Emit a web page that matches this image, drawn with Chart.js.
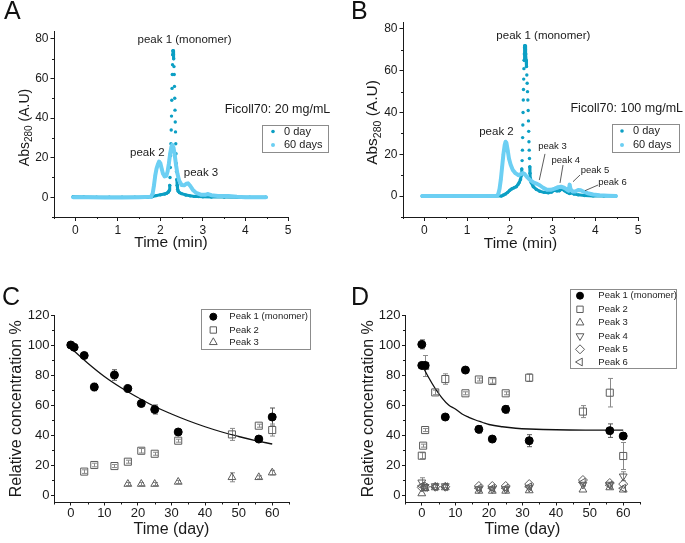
<!DOCTYPE html>
<html>
<head>
<meta charset="utf-8">
<script src="https://cdn.jsdelivr.net/npm/chart.js@4.4.1/dist/chart.umd.min.js"></script>
<style>
  body { margin: 0; background: #fff; }
  #wrap { position: relative; width: 685px; height: 543px; overflow: hidden; font-family: 'Liberation Sans', Arial, sans-serif; }
  #wrap canvas { position: absolute; left: 0; top: 0; }
  .tag { position: absolute; font-size: 25px; line-height: 25px; color: #111; }
</style>
</head>
<body>
<div id="wrap">
  <canvas id="chartA" width="685" height="543"></canvas>
  <canvas id="chartB" width="685" height="543"></canvas>
  <canvas id="chartC" width="685" height="543"></canvas>
  <canvas id="chartD" width="685" height="543"></canvas>
  <div class="tag" style="left:4px;top:-2px">A</div>
  <div class="tag" style="left:351px;top:-2px">B</div>
  <div class="tag" style="left:2px;top:284px">C</div>
  <div class="tag" style="left:351px;top:284px">D</div>
</div>
<script>
// ---- tick labels ----
const minTicks = [0, 1, 2, 3, 4, 5];
const absTicks = [0, 20, 40, 60, 80];
const dayTicks = [0, 10, 20, 30, 40, 50, 60];
const pctTicks = [0, 20, 40, 60, 80, 100, 120];

// ---- chromatograms (time in min, Abs280) ----
const A0_t = [-0.05, 0.2, 0.5, 0.8, 1.1, 1.4, 1.7, 1.8, 1.9, 2.0, 2.1, 2.15, 2.19, 2.21,
  2.22, 2.227, 2.234, 2.241, 2.248, 2.255, 2.262, 2.268, 2.274, 2.28, 2.286, 2.291, 2.296,
  2.302, 2.308, 2.314, 2.32, 2.326, 2.332, 2.338, 2.344, 2.35, 2.356, 2.362, 2.368, 2.374, 2.38,
  2.387, 2.395, 2.405, 2.42, 2.45, 2.5, 2.6, 2.7, 2.8, 2.9, 3.0, 3.2, 3.5, 3.8, 4.1, 4.48];
const A0_v = [0.2, 0.1, 0, 0, 0, 0, 0, 0.2, 0.8, 1.2, 1.6, 2, 2.6, 3.5,
  6, 10, 15, 21, 27, 34, 41, 49, 55, 62, 67, 72, 74,
  74, 72, 70, 66, 62, 56, 50, 44, 38, 33, 27, 22, 17, 13,
  9, 6, 4, 3, 2.3, 1.8, 1.1, 0.7, 0.4, 0.3, 0.2, 0.1, 0.1, 0, 0, 0];
const A60_t = [-0.05, 0.3, 0.7, 1.1, 1.5, 1.78, 1.82, 1.85, 1.88, 1.91, 1.94, 1.97, 2.0, 2.03, 2.06,
  2.1, 2.14, 2.17, 2.2, 2.23, 2.26, 2.28, 2.31, 2.34, 2.37, 2.4, 2.44, 2.5, 2.56, 2.61, 2.65, 2.7,
  2.76, 2.84, 2.95, 3.05, 3.12, 3.2, 3.35, 3.6, 3.8, 4.0, 4.48];
const A60_v = [0, 0, -0.1, -0.1, 0, 0.2, 2, 6, 11, 14.5, 16.5, 18, 17.2, 14.5, 12,
  10.5, 10.8, 13, 17, 22, 25.5, 26.5, 25, 21, 16, 12, 8.5, 6.2, 6, 6.8, 7, 5.8,
  3.8, 2.2, 1.3, 1.2, 1.6, 1, 0.6, 0.6, 0.2, 0, 0];

const B0_t = [-0.05, 0.3, 0.7, 1.1, 1.5, 1.8, 1.85, 1.9, 1.95, 2.0, 2.05, 2.1, 2.15, 2.19, 2.22, 2.25, 2.27,
  2.28, 2.288, 2.295, 2.3, 2.305, 2.31, 2.315, 2.32, 2.325, 2.33, 2.335, 2.34, 2.345, 2.35,
  2.358, 2.366, 2.374, 2.382, 2.39, 2.398, 2.406, 2.414, 2.422, 2.43, 2.436, 2.442, 2.448, 2.454,
  2.46, 2.466, 2.472, 2.48, 2.5, 2.55, 2.62, 2.7, 2.8, 2.9, 2.98, 3.04, 3.1, 3.16, 3.22, 3.28,
  3.34, 3.4, 3.45, 3.5, 3.6, 3.75, 3.95, 4.2, 4.48];
const B0_v = [0, 0, 0, 0, 0, 0, 0.5, 1, 1.8, 2.8, 3.5, 4, 4.5, 5.5, 6.5, 8, 10,
  13, 17, 22, 28, 34, 40, 46, 51, 56, 61, 65, 68, 71, 72,
  72, 70, 68, 65, 62, 58, 54, 50, 46, 41, 36, 31, 26, 22,
  18, 14, 11, 8.5, 6.5, 4.5, 3.2, 2.3, 1.8, 1.6, 2, 2.8, 2.5, 2.6, 3.4, 2.6,
  1.8, 1.2, 1.6, 1, 0.6, 0.3, 0.1, 0, 0];
const B60_t = [-0.05, 0.3, 0.7, 1.1, 1.5, 1.7, 1.73, 1.76, 1.79, 1.82, 1.85, 1.88, 1.9, 1.92, 1.95,
  1.98, 2.02, 2.07, 2.13, 2.2, 2.26, 2.3, 2.35, 2.4, 2.47, 2.55, 2.62, 2.7, 2.78, 2.87, 2.96, 3.05,
  3.13, 3.2, 3.27, 3.33, 3.38, 3.4, 3.42, 3.47, 3.53, 3.6, 3.66, 3.73, 3.82, 3.95, 4.1, 4.3, 4.48];
const B60_v = [0, 0, 0, 0, 0, 0.2, 1, 3.5, 8, 14, 20, 24.5, 26, 25.5, 22,
  18, 15, 12.5, 11, 10, 10.5, 11, 10.5, 9.2, 7.8, 6.6, 6, 5.2, 4, 3, 3, 3.6,
  4.3, 4.5, 4, 3.2, 2.6, 5.5, 3.4, 2.2, 2.2, 2.9, 2.8, 2.1, 1.4, 0.8, 0.4, 0.2, 0];

// ---- relative concentration (day, %) ----
const C1_t = [0, 1, 4, 7, 13, 17, 21, 25, 32, 56, 60];
const C1_v = [100, 98.5, 93, 72, 80, 71, 61, 57, 42, 37.3, 52];
const C1_e = [1, 1, 1.5, 2.5, 3.5, 1, 1.5, 3, 1.5, 1.5, 6];
const C2_t = [4, 7, 13, 17, 21, 25, 32, 48, 56, 60];
const C2_v = [15.6, 20, 19.3, 22.2, 29.5, 27.5, 36.2, 40.4, 46.2, 43.3];
const C2_e = [1.2, 1.2, 1, 1, 1.5, 1, 1, 4, 1, 4];
const C3_t = [17, 21, 25, 32, 48, 56, 60];
const C3_v = [7.3, 7.3, 7.3, 8.7, 11.8, 11.8, 14.9];
const C3_e = [1, 1, 1, 1, 3, 1, 1.5];
const Cfit_t = [0, 5, 10, 15, 20, 25, 30, 35, 40, 45, 50, 55, 60];
const Cfit_v = [98, 88, 79, 71.5, 65, 59, 54, 49.5, 45.5, 42, 39, 36.3, 34];

const D1_t = [0, 0, 1, 7, 13, 17, 21, 25, 32, 56, 60];
const D1_v = [100.4, 86.4, 86.4, 52, 83.3, 43.8, 37.3, 57.1, 36.2, 42.9, 39.3];
const D1_e = [3, 2, 2, 1, 1.5, 2.5, 1.5, 2.5, 4, 4.5, 2];
const D2_t = [0, 0.4, 1, 1, 4, 7, 13, 17, 21, 25, 32, 48, 56, 60];
const D2_v = [26.2, 32.9, 43.3, 86, 68.4, 77.3, 67.8, 77, 76, 67.8, 78.2, 55.6, 68.2, 26];
const D2_e = [2, 1, 1, 7, 1.5, 3.5, 1, 1, 1.5, 1, 2.5, 4, 9.5, 9];
const Dx_t = [0, 1, 4, 7, 17, 21, 25, 32, 48, 56, 60];
const D3_v = [1, 4.5, 5, 5, 2.7, 2.7, 2.7, 3, 3.5, 5, 3.5];
const D4_v = [8.5, 5.5, 6, 6, 4, 4, 4, 5, 7, 7, 12.5];
const D4_e = [3, 1, 1, 1, 1, 1, 1, 1, 1, 1, 3];
const D5_v = [5, 5.5, 5.5, 5.5, 6, 6, 6, 7.3, 10, 8, 7.3];
const D6_v = [6, 5, 5.5, 5.5, 4.5, 4.5, 4.5, 5.5, 8.5, 6.5, 4.5];
const Dfit_t = [0, 2, 4, 6, 8, 10, 12, 14, 16, 18, 20, 24, 28, 32, 40, 50, 60];
const Dfit_v = [87, 78.5, 71, 64.8, 60, 57.3, 54, 51.8, 50, 48.5, 47, 45.5, 44.5, 44, 43.5, 43.3, 43.3];

const FONT = "'Liberation Sans', Arial, sans-serif";
const INK = '#1a1a1a';
const TEAL = '#0c9fc4';
const SKY = '#6ccff3';
const GREY = '#5c5c5c';

const pts = (t, v) => t.map((x, i) => ({ x: x, y: v[i] }));

function chrom(label, t, v, color, width, radius, dotted, order) {
  const ds = {
    label: label, data: pts(t, v), showLine: true, order: order,
    borderColor: color, backgroundColor: color, borderWidth: width,
    borderCapStyle: 'round', borderJoinStyle: 'round',
    pointRadius: radius, pointHoverRadius: radius, pointBorderWidth: 0
  };
  // big jumps in the 0 day trace are only dots, no joining line
  if (dotted) ds.segment = { borderColor: c => Math.abs(c.p1.parsed.y - c.p0.parsed.y) > 3 ? 'rgba(0,0,0,0)' : undefined };
  return ds;
}

function marks(label, t, v, e, style, opts) {
  return Object.assign({
    label: label, data: pts(t, v), showLine: false, errors: e,
    pointStyle: style, pointRadius: 4.5, pointHoverRadius: 4.5, pointBorderWidth: 1,
    borderColor: GREY, backgroundColor: 'rgba(255,255,255,0)', errorColor: '#8a8a8a'
  }, opts || {});
}

function fitLine(t, v) {
  return { label: 'fit', data: pts(t, v), showLine: true, borderColor: '#111', borderWidth: 1.3,
    pointRadius: 0, pointHoverRadius: 0, tension: 0.4, order: 5 };
}

function axis(o) {
  return {
    type: 'linear', min: o.min, max: o.max,
    border: { display: true, color: INK, width: 1 },
    grid: { display: true, drawOnChartArea: false, drawTicks: true, tickLength: o.tick, tickColor: INK, color: INK },
    ticks: { color: INK, padding: o.pad, maxRotation: 0, autoSkip: false,
      font: { family: FONT, size: o.size } },
    afterBuildTicks: s => { s.ticks = o.ticks.map(v => ({ value: v })); },
    title: o.title ? { display: true, text: o.title, color: INK, padding: 0,
      font: { family: FONT, size: o.titleSize } } : { display: false },
    afterFit: s => { if (s.isHorizontal()) s.height = o.fit; else s.width = o.fit; }
  };
}

function drawMarker(ctx, ds, x, y, r) {
  const st = ds.pointStyle || 'circle';
  ctx.save();
  ctx.translate(x, y);
  ctx.rotate((ds.pointRotation || 0) * Math.PI / 180);
  ctx.beginPath();
  if (st === 'rect') { const s = r * Math.SQRT1_2; ctx.rect(-s, -s, 2 * s, 2 * s); }
  else if (st === 'rectRot') { ctx.moveTo(-r, 0); ctx.lineTo(0, -r); ctx.lineTo(r, 0); ctx.lineTo(0, r); ctx.closePath(); }
  else if (st === 'triangle') { ctx.moveTo(0, -r); ctx.lineTo(r * 0.866, r * 0.5); ctx.lineTo(-r * 0.866, r * 0.5); ctx.closePath(); }
  else ctx.arc(0, 0, r, 0, Math.PI * 2);
  ctx.fillStyle = ds.backgroundColor;
  ctx.fill();
  if (ds.pointBorderWidth) { ctx.lineWidth = ds.pointBorderWidth; ctx.strokeStyle = ds.borderColor; ctx.stroke(); }
  ctx.restore();
}

// error bars, minor ticks, labels, legend box
function extras(cfg) {
  return {
    id: 'extras',
    beforeDatasetsDraw(chart) {
      const ctx = chart.ctx, ys = chart.scales.y;
      chart.data.datasets.forEach((ds, i) => {
        if (!ds.errors) return;
        const meta = chart.getDatasetMeta(i);
        ctx.save();
        ctx.strokeStyle = ds.errorColor;
        ctx.lineWidth = 1;
        meta.data.forEach((el, k) => {
          const e = ds.errors[k];
          if (!e) return;
          const v = ds.data[k].y;
          const x = Math.round(el.x) + 0.5;
          const y1 = ys.getPixelForValue(v + e), y2 = ys.getPixelForValue(v - e);
          ctx.beginPath();
          ctx.moveTo(x, y1); ctx.lineTo(x, y2);
          ctx.moveTo(x - 2.5, y1); ctx.lineTo(x + 2.5, y1);
          ctx.moveTo(x - 2.5, y2); ctx.lineTo(x + 2.5, y2);
          ctx.stroke();
        });
        ctx.restore();
      });
    },
    afterDraw(chart) {
      const ctx = chart.ctx, xs = chart.scales.x, ys = chart.scales.y;
      ctx.save();
      ctx.strokeStyle = INK;
      ctx.lineWidth = 1;
      [[xs, cfg.minorX], [ys, cfg.minorY]].forEach(([s, step]) => {
        const majors = s.ticks.map(t => t.value);
        ctx.beginPath();
        for (let v = Math.ceil(s.min / step) * step; v <= s.max + 1e-9; v += step) {
          if (majors.some(m => Math.abs(m - v) < 1e-6)) continue;
          const p = Math.round(s.getPixelForValue(v)) + 0.5;
          if (s.isHorizontal()) { ctx.moveTo(p, s.top); ctx.lineTo(p, s.top + 2); }
          else { ctx.moveTo(s.right, p); ctx.lineTo(s.right - 2, p); }
        }
        ctx.stroke();
      });

      ctx.fillStyle = INK;
      ctx.textAlign = 'center';
      ctx.textBaseline = 'middle';
      (cfg.texts || []).forEach(([txt, x, y, size]) => {
        ctx.font = size + 'px ' + FONT;
        ctx.fillText(txt, xs.getPixelForValue(x), ys.getPixelForValue(y));
      });
      ctx.strokeStyle = '#333';
      ctx.lineWidth = 0.8;
      (cfg.lines || []).forEach(([x1, y1, x2, y2]) => {
        ctx.beginPath();
        ctx.moveTo(xs.getPixelForValue(x1), ys.getPixelForValue(y1));
        ctx.lineTo(xs.getPixelForValue(x2), ys.getPixelForValue(y2));
        ctx.stroke();
      });

      if (cfg.yTitle) {
        const yt = cfg.yTitle;
        ctx.save();
        ctx.translate(yt.x, yt.y);
        ctx.rotate(-Math.PI / 2);
        ctx.textAlign = 'left';
        ctx.textBaseline = 'alphabetic';
        let w = 0;
        yt.parts.forEach(([s, size]) => { ctx.font = size + 'px ' + FONT; w += ctx.measureText(s).width; });
        let cx = -w / 2;
        const base = yt.size * 0.36;
        yt.parts.forEach(([s, size, shift]) => {
          ctx.font = size + 'px ' + FONT;
          ctx.fillText(s, cx, base + shift);
          cx += ctx.measureText(s).width;
        });
        ctx.restore();
      }

      if (cfg.legend) {
        const lg = cfg.legend;
        ctx.strokeStyle = '#8c8c8c';
        ctx.lineWidth = 1;
        ctx.strokeRect(lg.box[0] + 0.5, lg.box[1] + 0.5, lg.box[2], lg.box[3]);
        ctx.textAlign = 'left';
        ctx.textBaseline = 'middle';
        ctx.font = lg.size + 'px ' + FONT;
        lg.items.forEach((di, k) => {
          const ds = chart.data.datasets[di];
          const y = lg.rows[k];
          drawMarker(ctx, ds, lg.markX, y, lg.r[k]);
          ctx.fillStyle = '#222';
          ctx.fillText(ds.label, lg.textX, y);
        });
      }
      ctx.restore();
    }
  };
}

function makeChart(id, box, xAxis, yAxis, datasets, cfg) {
  return new Chart(document.getElementById(id), {
    type: 'scatter',
    data: { datasets: datasets },
    options: {
      responsive: false, animation: false, events: [],
      layout: { padding: { left: box.l - yAxis.fit, top: box.t, right: 685 - box.r, bottom: 543 - box.b - xAxis.fit } },
      plugins: { legend: { display: false }, tooltip: { enabled: false } },
      scales: { x: axis(xAxis), y: axis(yAxis) }
    },
    plugins: [extras(cfg)]
  });
}

// A
makeChart('chartA', { l: 54, t: 31, r: 288, b: 217 },
  { min: -0.5, max: 5, ticks: minTicks, size: 12, tick: 4, pad: 2, fit: 35, title: 'Time (min)', titleSize: 15.5 },
  { min: -10, max: 84, ticks: absTicks, size: 12, tick: 3.5, pad: 2, fit: 40 },
  [chrom('0 day', A0_t, A0_v, TEAL, 3, 1.7, true, 1),
   chrom('60 days', A60_t, A60_v, SKY, 4, 1.5, false, 0)],
  { minorX: 0.5, minorY: 10,
    texts: [['peak 1 (monomer)', 2.567, 79.45, 11.5], ['peak 2', 1.693, 22.3, 11.5],
            ['peak 3', 2.955, 12.2, 11.5], ['Ficoll70: 20 mg/mL', 4.753, 44.1, 12.5]],
    yTitle: { x: 24, y: 127.5, size: 14, parts: [['Abs', 14, 0], ['280', 10, 3], [' (A.U)', 14, 0]] },
    legend: { box: [262, 125, 66, 27], rows: [131.5, 145], markX: 273, textX: 284, size: 11, items: [0, 1], r: [1.8, 2] } });

// B
makeChart('chartB', { l: 403, t: 22.7, r: 638, b: 217 },
  { min: -0.5, max: 5, ticks: minTicks, size: 12, tick: 4, pad: 2, fit: 35.6, title: 'Time (min)', titleSize: 15.5 },
  { min: -10, max: 83, ticks: absTicks, size: 12, tick: 3.5, pad: 2, fit: 40 },
  [chrom('0 day', B0_t, B0_v, TEAL, 3, 1.7, true, 1),
   chrom('60 days', B60_t, B60_v, SKY, 4, 1.5, false, 0)],
  { minorX: 0.5, minorY: 10,
    texts: [['peak 1 (monomer)', 2.784, 76.6, 11.5], ['peak 2', 1.688, 30.8, 11.5],
            ['Ficoll70: 100 mg/mL', 4.736, 42, 12.5], ['peak 3', 2.999, 23.6, 9.5],
            ['peak 4', 3.31, 16.9, 9.5], ['peak 5', 3.994, 12.5, 9.5], ['peak 6', 4.403, 6.4, 9.5]],
    lines: [[2.823, 20.2, 2.69, 7.7], [3.245, 14.9, 3.175, 6.3], [3.643, 10.1, 3.479, 6.9], [4.064, 5.3, 3.76, 2.6]],
    yTitle: { x: 371.7, y: 122.5, size: 15.5, parts: [['Abs', 15.5, 0], ['280', 10.5, 3.5], [' (A.U)', 15.5, 0]] },
    legend: { box: [612, 124, 67, 28], rows: [131, 145], markX: 622, textX: 633, size: 11, items: [0, 1], r: [1.8, 2] } });

// C
makeChart('chartC', { l: 54, t: 315, r: 289, b: 502.5 },
  { min: -5, max: 65, ticks: dayTicks, size: 13, tick: 3, pad: 0, fit: 37.1, title: 'Time (day)', titleSize: 16 },
  { min: -5, max: 120, ticks: pctTicks, size: 13, tick: 3, pad: 1.5, fit: 46.9, title: 'Relative concentration %', titleSize: 16 },
  [marks('Peak 1 (monomer)', C1_t, C1_v, C1_e, 'circle', { pointRadius: 4, backgroundColor: '#000', borderColor: '#000', errorColor: '#555' }),
   marks('Peak 2', C2_t, C2_v, C2_e, 'rect', { pointRadius: 5 }),
   marks('Peak 3', C3_t, C3_v, C3_e, 'triangle'),
   fitLine(Cfit_t, Cfit_v)],
  { minorX: 5, minorY: 10,
    legend: { box: [201, 309, 109, 40], rows: [316.7, 330, 342.3], markX: 213.3, textX: 229.3, size: 9.5, items: [0, 1, 2], r: [3.5, 4.5, 4.5] } });

// D
makeChart('chartD', { l: 405, t: 315, r: 640, b: 502.5 },
  { min: -5, max: 65, ticks: dayTicks, size: 13, tick: 3, pad: 0, fit: 37.1, title: 'Time (day)', titleSize: 16 },
  { min: -5, max: 120, ticks: pctTicks, size: 13, tick: 3, pad: 1.5, fit: 46.3, title: 'Relative concentration %', titleSize: 16 },
  [marks('Peak 1 (monomer)', D1_t, D1_v, D1_e, 'circle', { pointRadius: 4, backgroundColor: '#000', borderColor: '#000', errorColor: '#555' }),
   marks('Peak 2', D2_t, D2_v, D2_e, 'rect', { pointRadius: 5 }),
   marks('Peak 3', Dx_t, D3_v, null, 'triangle'),
   marks('Peak 4', Dx_t, D4_v, D4_e, 'triangle', { pointRotation: 180 }),
   marks('Peak 5', Dx_t, D5_v, null, 'rectRot'),
   marks('Peak 6', Dx_t, D6_v, null, 'triangle', { pointRotation: -90 }),
   fitLine(Dfit_t, Dfit_v)],
  { minorX: 5, minorY: 10,
    legend: { box: [570, 289, 106, 79], rows: [295.7, 309.3, 322.7, 336, 349.3, 362], markX: 580, textX: 598.3, size: 9.5,
      items: [0, 1, 2, 3, 4, 5], r: [3.5, 4.5, 4.5, 4.5, 4.5, 4.5] } });
</script>
</body>
</html>
